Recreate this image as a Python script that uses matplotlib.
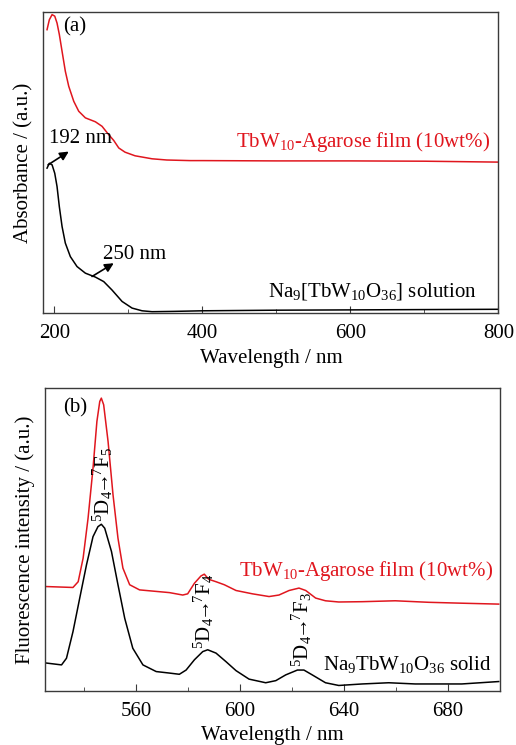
import numpy as np
import matplotlib
matplotlib.use("Agg")
from matplotlib import pyplot as plt
from matplotlib.ticker import MultipleLocator

plt.rcParams['font.family'] = ['Liberation Serif', 'DejaVu Serif']
plt.rcParams['mathtext.fontset'] = 'custom'
plt.rcParams['mathtext.rm'] = 'Liberation Serif'
plt.rcParams['font.size'] = 15

RED = '#e0161e'
SPINE = '#3a3a3a'

# (a) absorbance (arbitrary units)
abs_film_wl = [190.0, 193.1, 196.8, 200.4, 203.5, 206.6, 210.3, 214.7, 219.3, 226.1,
               232.8, 241.8, 255.3, 264.3, 273.4, 280.1, 286.9, 295.4, 308.9, 331.9,
               351.8, 383.2, 400, 500, 600, 700, 800]
abs_film = [94.1, 97.4, 99.1, 98.6, 96.3, 92.5, 86.9, 80.3, 75.3, 70.3,
            67.0, 64.8, 63.5, 62.0, 59.2, 57.3, 54.8, 53.4, 52.2, 51.2,
            50.8, 50.6, 50.6, 50.5, 50.5, 50.4, 50.1]

abs_sol_wl = [190.0, 193.1, 196.8, 200.4, 203.5, 206.6, 210.3, 214.7, 221.5, 230.5,
              241.8, 255.3, 266.6, 277.8, 291.4, 304.9, 318.4, 331.9, 360.7,
              400, 500, 600, 700, 800]
abs_sol = [48.1, 49.7, 49.2, 46.4, 42.0, 35.3, 28.7, 23.2, 18.7, 15.4,
           13.2, 11.9, 10.4, 7.6, 3.8, 1.6, 0.7, 0.4, 0.5,
           0.7, 0.9, 1.0, 1.1, 1.2]

# (b) fluorescence (arbitrary units)
fl_film_wl = [525.7, 535.8, 537.8, 539.7, 541.6, 543.5, 545.0, 546.1, 546.7, 547.6,
              549.3, 551.2, 553.1, 555.0, 557.6, 561.4, 572.9, 578.0, 579.9, 582.5,
              585.0, 586.3, 588.0, 590.8, 594.0, 598.5, 604.8, 611.2, 615.0, 618.9,
              622.7, 625.3, 629.1, 632.9, 638.0, 647.0, 659.7, 672.5, 685.3, 699.5]
fl_film = [34.4, 34.1, 36.0, 43.8, 57.0, 73.5, 89.0, 95.6, 96.7, 94.5,
           82.3, 64.7, 50.4, 40.5, 35.0, 33.3, 32.4, 31.6, 32.0, 35.5,
           37.9, 38.5, 36.8, 36.0, 35.0, 33.1, 32.0, 31.1, 31.6, 33.1,
           33.9, 33.1, 30.6, 29.7, 29.3, 29.4, 29.7, 29.2, 28.9, 28.6]

fl_solid_wl = [525.7, 531.4, 533.3, 535.8, 538.4, 541.0, 543.5, 545.4, 546.7, 548.0,
               550.6, 553.1, 555.7, 558.8, 562.7, 567.8, 572.9, 576.7, 579.3, 582.5,
               585.7, 587.6, 590.8, 594.6, 598.5, 603.5, 609.9, 613.8, 617.6, 622.1,
               624.6, 627.8, 632.9, 638.0, 647.0, 657.2, 667.4, 685.3, 699.5]
fl_solid = [9.1, 8.5, 10.7, 19.5, 30.6, 41.6, 50.9, 54.2, 55.0, 53.7,
            46.0, 35.0, 23.9, 14.0, 8.5, 6.3, 5.8, 5.4, 6.8, 10.2,
            12.9, 13.5, 12.4, 9.6, 6.6, 3.8, 2.6, 3.3, 5.2, 6.8,
            6.8, 5.2, 2.6, 1.7, 2.2, 2.6, 2.2, 2.2, 3.0]

film_label = r'TbW$\mathregular{_{10}}$-Agarose film (10wt%)'
sol_label = r'Na$\mathregular{_9}$[TbW$\mathregular{_{10}}$O$\mathregular{_{36}}$] solution'
solid_label = r'Na$\mathregular{_9}$TbW$\mathregular{_{10}}$O$\mathregular{_{36}}$ solid'
transitions = [r'$\mathregular{{}^5D_4\!\!\rightarrow\!\!{}^7F_5}$',
               r'$\mathregular{{}^5D_4\!\!\rightarrow\!\!{}^7F_4}$',
               r'$\mathregular{{}^5D_4\!\!\rightarrow\!\!{}^7F_3}$']
trans_wl = [547.3, 586.3, 624.0]
trans_base = [55.8, 13.8, 7.8]

# arrow annotations in (a): (tail on curve, head by the text)
peak_marks = ['192 nm', '250 nm']
arrow_tail = [(191.4, 49.2), (250.8, 12.1)]
arrow_head = [(219.3, 53.6), (280.1, 16.5)]
mark_text_at = [(193.1, 57.9), (265.7, 19.5)]

fig = plt.figure(figsize=(5.16, 7.45), dpi=100)
ax1 = fig.add_axes([0.084, 0.580, 0.882, 0.404])
ax2 = fig.add_axes([0.087, 0.073, 0.882, 0.406])

for ax in (ax1, ax2):
    for s in ax.spines.values():
        s.set_color(SPINE)
        s.set_linewidth(1.0)
    ax.set_yticks([])
    ax.tick_params(axis='x', which='both', direction='in', colors=SPINE,
                   labelcolor='black', pad=8, top=False)
    ax.tick_params(axis='x', which='major', length=5)
    ax.tick_params(axis='x', which='minor', length=3)

# (a)
ax1.plot(abs_film_wl, abs_film, color=RED, lw=1.1)
ax1.plot(abs_sol_wl, abs_sol, color='black', lw=1.1)
ax1.set_xlim(185, 800)
ax1.set_ylim(0, 100)
ax1.xaxis.set_major_locator(MultipleLocator(200))
ax1.xaxis.set_minor_locator(MultipleLocator(100))
ax1.set_xlabel('Wavelength / nm', labelpad=4)
ax1.set_ylabel('Absorbance / (a.u.)', labelpad=7)
ax1.text(212, 95.1, '(a)', va='center', ha='left')
ax1.text(788.6, 56.9, film_label, color=RED, ha='right', va='center')
ax1.text(770.7, 7.1, sol_label, ha='right', va='center')
for lab, tail, head, pos in zip(peak_marks, arrow_tail, arrow_head, mark_text_at):
    ax1.annotate('', xy=head, xytext=tail,
                 arrowprops=dict(arrowstyle='-|>', color='black', lw=1.2,
                                 shrinkA=0, shrinkB=0, mutation_scale=13))
    ax1.text(pos[0], pos[1], lab, ha='left', va='center')

# (b)
ax2.plot(fl_film_wl, fl_film, color=RED, lw=1.1)
ax2.plot(fl_solid_wl, fl_solid, color='black', lw=1.1)
ax2.set_xlim(525, 700)
ax2.set_ylim(0, 100)
ax2.xaxis.set_major_locator(MultipleLocator(40))
ax2.xaxis.set_minor_locator(MultipleLocator(20))
ax2.set_xlabel('Wavelength / nm', labelpad=4)
ax2.set_ylabel('Fluorescence intensity / (a.u.)', labelpad=7)
ax2.text(532, 93.4, '(b)', va='center', ha='left')
ax2.text(697.4, 39.4, film_label, color=RED, ha='right', va='center')
ax2.text(696.8, 8.5, solid_label, ha='right', va='center')
for t, w, b in zip(transitions, trans_wl, trans_base):
    ax2.text(w, b, t, rotation=90, ha='center', va='bottom', fontsize=15)

fig.savefig('out.png', dpi=100)
